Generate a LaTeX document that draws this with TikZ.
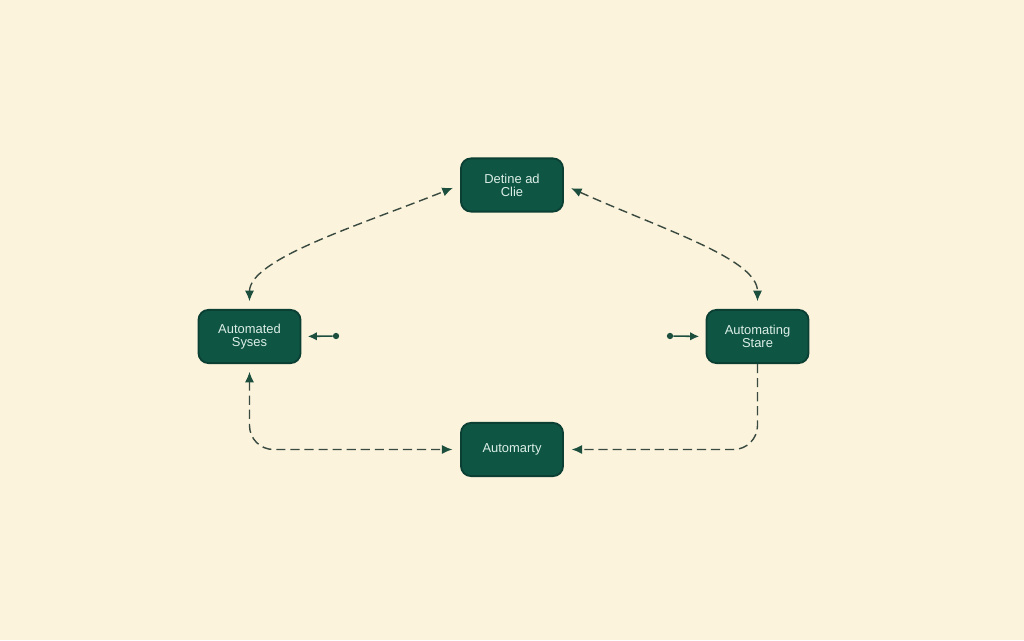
\documentclass[tikz,border=0pt]{standalone}
\usepackage{fontspec}
\setmainfont{Liberation Sans}
\usepackage{xcolor}
\usetikzlibrary{positioning,arrows.meta}
\definecolor{paper}{HTML}{FBF3DC}
\definecolor{boxfill}{HTML}{0F5544}
\definecolor{boxline}{HTML}{0B3F33}
\definecolor{boxtext}{HTML}{DCEFE6}
\definecolor{linkcol}{HTML}{3A4A40}
\definecolor{tipcol}{HTML}{1D4F3F}

\begin{document}
\begin{tikzpicture}[
x=0.025cm, y=0.025cm,
state/.style={rectangle, rounded corners=0.25cm, draw=boxline, line width=1.3pt, fill=boxfill,
  text=boxtext, minimum width=2.55cm, minimum height=1.33cm, align=center,
  font=\fontsize{9.2}{9.4}\selectfont},
flow/.style={draw=linkcol, line width=1pt, dash pattern=on 6.5pt off 3.5pt,
  arrows={-{Latex[length=7.5pt,width=6.5pt,color=tipcol]}}},
biflow/.style={flow, arrows={{Latex[length=7.5pt,width=6.5pt,color=tipcol]}-{Latex[length=7.5pt,width=6.5pt,color=tipcol]}}},
gap/.style={shorten >=5.5pt, shorten <=5.5pt},
dot/.style={circle, fill=tipcol, minimum size=4.5pt, inner sep=0pt},
feed/.style={draw=tipcol, line width=1.1pt, arrows={-{Latex[length=6.5pt,width=6pt]}}}
]

\useasboundingbox[fill=paper] (0,0) rectangle (1024,640);

\node[state] (defcl) at (512,455) {Detine ad\\Clie};
\node[state] (autosys) at (249.5,303.5) {Automated\\Syses};
\node[state] (autostate) at (757.5,303.5) {Automating\\Stare};
\node[state] (automty) at (512,190.5) {Automarty};

\node[dot] (dotl) at (336,304) {};
\node[dot] (dotr) at (670,304) {};

%Upper connections
\draw[biflow,gap] (autosys.north) .. controls +(0,50) and +(-100,-40) .. (defcl.west);
\draw[biflow,gap] (defcl.east) .. controls +(100,-45) and +(0,50) .. (autostate.north);

%Lower connections
\draw[biflow,gap,rounded corners=0.6cm] (autosys.south) |- (automty.west);
\draw[flow,shorten >=5.5pt,rounded corners=0.6cm] (autostate.south) |- (automty.east);

%Feeds
\draw[feed,shorten >=4.5pt] (dotl) -- (autosys.east);
\draw[feed,shorten >=4.5pt] (dotr) -- (autostate.west);
\end{tikzpicture}
\end{document}
